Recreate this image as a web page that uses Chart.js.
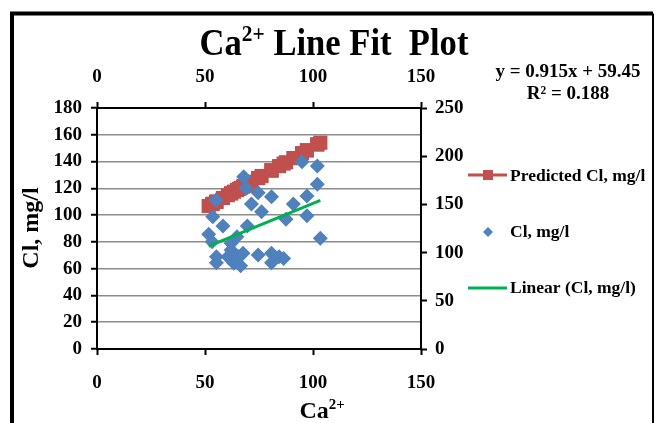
<!DOCTYPE html>
<html>
<head>
<meta charset="utf-8">
<script src="https://cdn.jsdelivr.net/npm/chart.js@4.4.1/dist/chart.umd.min.js"></script>
<style>
  html, body { margin: 0; padding: 0; background: #fff; }
  #wrap { width: 656px; height: 423px; }
</style>
</head>
<body>
<div id="wrap"><canvas id="fitChart" width="656" height="423"></canvas></div>
<script>
// Ca2+ values (x) and the matching Cl readings
const caValues = [55.1, 67.9, 69.0, 74.6, 80.8, 71.5, 76.2, 94.9, 102.0, 102.0, 97.2, 90.9, 97.2, 87.5,
    53.6, 58.3, 69.6, 51.7, 53.3, 64.8, 62.1, 103.4, 55.3, 55.3, 60.6, 63.4, 66.5, 67.6, 62.1,
    74.6, 80.8, 80.8, 84.3, 86.4, 65.6];
const clValues = [154.6, 178.7, 166.7, 162.1, 158.0, 150.4, 142.4, 194.3, 189.8, 170.9, 158.7, 150.4, 138.3, 134.5,
    137.3, 127.6, 127.6, 119.0, 111.3, 116.5, 109.6, 114.8, 95.7, 89.5, 95.7, 88.9, 86.4, 99.3, 102.7,
    97.5, 99.3, 89.5, 95.7, 94.0, 95.7];
const predictedCl = [109.9, 121.6, 122.6, 127.7, 133.4, 124.9, 129.2, 146.3, 152.8, 152.8, 148.4, 142.6, 148.4, 139.5,
    108.5, 112.8, 123.1, 106.8, 108.2, 118.7, 116.3, 154.1, 110.0, 110.0, 114.9, 117.5, 120.3, 121.3, 116.3,
    127.7, 133.4, 133.4, 136.6, 138.5, 119.5];
// linear trendline end points
const trendX = [51.7, 103.4];
const trendY = [106.8, 154.1];

const xTicks = [0, 50, 100, 150];
const leftTicks = [0, 20, 40, 60, 80, 100, 120, 140, 160, 180];
const rightTicks = [0, 50, 100, 150, 200, 250];

const SERIF = '"Liberation Serif", "Times New Roman", serif';
const tickFont = { family: SERIF, size: 19, weight: 'bold' };

const pts = (xs, ys) => xs.map((x, i) => ({ x: x, y: ys[i] }));

// draws text with a superscript part, left aligned at x
function supText(ctx, parts, x, y, size) {
    let cx = x;
    parts.forEach(p => {
        const s = p.sup ? size * 0.62 : size;
        ctx.font = 'bold ' + s + 'px ' + SERIF;
        ctx.fillText(p.t, cx, p.sup ? y - size * 0.36 : y);
        cx += ctx.measureText(p.t).width;
    });
    return cx - x;
}
function supWidth(ctx, parts, size) {
    let w = 0;
    parts.forEach(p => {
        ctx.font = 'bold ' + (p.sup ? size * 0.62 : size) + 'px ' + SERIF;
        w += ctx.measureText(p.t).width;
    });
    return w;
}

const decor = {
    id: 'decor',
    afterDraw(chart) {
        const ctx = chart.ctx;
        ctx.save();
        ctx.fillStyle = '#000';
        ctx.strokeStyle = '#000';
        ctx.textBaseline = 'alphabetic';
        ctx.textAlign = 'left';

        // frame
        ctx.lineWidth = 4;
        ctx.beginPath();
        ctx.moveTo(12, 430);
        ctx.lineTo(12, 13.5);
        ctx.lineTo(653, 13.5);
        ctx.stroke();
        ctx.lineWidth = 2;
        ctx.beginPath();
        ctx.moveTo(653, 13.5);
        ctx.lineTo(653, 430);
        ctx.stroke();

        // title, a little condensed like the original
        const title = [{ t: 'Ca' }, { t: '2+', sup: true }, { t: ' Line Fit  Plot' }];
        const tw = supWidth(ctx, title, 38) * 0.91;
        ctx.save();
        ctx.translate(334 - tw / 2, 55);
        ctx.scale(0.91, 1);
        supText(ctx, title, 0, 0, 38);
        ctx.restore();

        // x axis title
        const xt = [{ t: 'Ca' }, { t: '2+', sup: true }];
        const xw = supWidth(ctx, xt, 24);
        supText(ctx, xt, 322 - xw / 2, 418, 24);

        // y axis title
        ctx.save();
        ctx.translate(38, 228);
        ctx.rotate(-Math.PI / 2);
        ctx.textAlign = 'center';
        ctx.font = 'bold 24px ' + SERIF;
        ctx.fillText('Cl, mg/l', 0, 0);
        ctx.restore();

        // trendline equation
        ctx.textAlign = 'center';
        ctx.textBaseline = 'middle';
        ctx.font = 'bold 19px ' + SERIF;
        ctx.fillText('y = 0.915x + 59.45', 568, 72);
        ctx.fillText('R\u00B2 = 0.188', 568, 94);

        // legend
        ctx.textAlign = 'left';
        ctx.font = 'bold 17.5px ' + SERIF;
        ctx.strokeStyle = '#C0504D';
        ctx.lineWidth = 3;
        ctx.beginPath(); ctx.moveTo(468, 175); ctx.lineTo(507, 175); ctx.stroke();
        ctx.fillStyle = '#C0504D';
        ctx.fillRect(483, 170, 10, 10);
        ctx.fillStyle = '#000';
        ctx.fillText('Predicted Cl, mg/l', 510, 176);

        ctx.fillStyle = '#4F81BD';
        ctx.beginPath();
        ctx.moveTo(488, 227); ctx.lineTo(493, 232); ctx.lineTo(488, 237); ctx.lineTo(483, 232);
        ctx.closePath(); ctx.fill();
        ctx.fillStyle = '#000';
        ctx.fillText('Cl, mg/l', 510, 232);

        ctx.strokeStyle = '#00B050';
        ctx.beginPath(); ctx.moveTo(468, 288); ctx.lineTo(507, 288); ctx.stroke();
        ctx.fillText('Linear (Cl, mg/l)', 510, 288);
        ctx.restore();
    }
};

const axisBase = {
    type: 'linear',
    ticks: { font: tickFont, color: '#000' },
    border: { color: '#000', width: 2 },
    grid: { drawOnChartArea: false, tickLength: 6, tickWidth: 2, tickColor: '#000' }
};

new Chart(document.getElementById('fitChart'), {
    type: 'scatter',
    data: {
        datasets: [
            {
                label: 'Linear (Cl, mg/l)',
                data: pts(trendX, trendY),
                showLine: true,
                borderColor: '#00B050',
                borderWidth: 3,
                pointRadius: 0,
                xAxisID: 'x',
                yAxisID: 'y2'
            },
            {
                label: 'Cl, mg/l',
                data: pts(caValues, clValues),
                pointStyle: 'rectRot',
                pointRadius: 7.5,
                backgroundColor: '#4F81BD',
                borderColor: '#4F81BD',
                borderWidth: 0,
                xAxisID: 'x',
                yAxisID: 'y2'
            },
            {
                label: 'Predicted Cl, mg/l',
                data: pts(caValues, predictedCl),
                pointStyle: 'rect',
                pointRadius: 10,
                backgroundColor: '#C0504D',
                borderColor: '#C0504D',
                borderWidth: 0,
                xAxisID: 'x',
                yAxisID: 'y'
            }
        ]
    },
    options: {
        responsive: false,
        animation: false,
        layout: { padding: 0 },
        plugins: { legend: { display: false }, tooltip: { enabled: false } },
        scales: {
            x: Object.assign({}, axisBase, {
                position: 'bottom', min: 0, max: 150,
                ticks: { font: tickFont, color: '#000', padding: 17, stepSize: 50 },
                afterBuildTicks: s => { s.ticks = xTicks.map(v => ({ value: v })); },
                afterFit: s => { s.height = 74; }
            }),
            x2: Object.assign({}, axisBase, {
                position: 'top', min: 0, max: 150,
                ticks: { font: tickFont, color: '#000', padding: 14, stepSize: 50 },
                afterBuildTicks: s => { s.ticks = xTicks.map(v => ({ value: v })); },
                afterFit: s => { s.height = 108; }
            }),
            y: Object.assign({}, axisBase, {
                position: 'left', min: 0, max: 180,
                ticks: { font: tickFont, color: '#000', padding: 9, stepSize: 20 },
                grid: { color: '#8c8c8c', lineWidth: 1.5, tickLength: 6, tickWidth: 2, tickColor: '#000' },
                afterBuildTicks: s => { s.ticks = leftTicks.map(v => ({ value: v })); },
                afterFit: s => { s.width = 97; }
            }),
            y2: Object.assign({}, axisBase, {
                position: 'right', min: 0, max: 250,
                ticks: { font: tickFont, color: '#000', padding: 8, stepSize: 50 },
                afterBuildTicks: s => { s.ticks = rightTicks.map(v => ({ value: v })); },
                afterFit: s => { s.width = 235; }
            })
        }
    },
    plugins: [decor]
});
</script>
</body>
</html>
